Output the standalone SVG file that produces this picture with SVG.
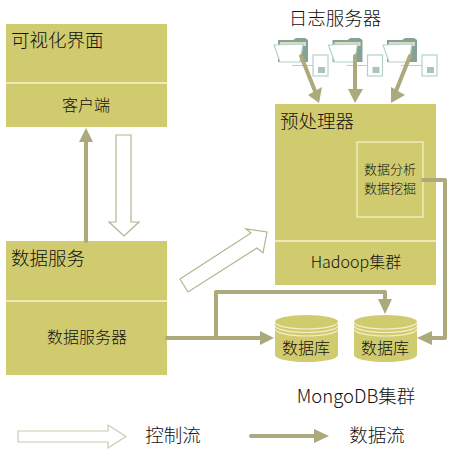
<svg xmlns="http://www.w3.org/2000/svg" width="449" height="457" viewBox="0 0 449 457">
<style>
text{font-family:"Noto Sans CJK SC","Liberation Sans",sans-serif;fill:#111;font-weight:300}
.box{fill:#d1cb6f}
.div{stroke:#eeeab8;stroke-width:2;fill:none}
.flow{fill:none;stroke:#aca97d;stroke-width:4;stroke-linejoin:round;stroke-linecap:round}
.head{fill:#aca97d}
.ctl{fill:#fff;stroke:#b5b38d;stroke-width:1.2}
.t18{font-size:18.500px}.t16{font-size:16px}.t13{font-size:13px}
.cyl{fill:#d1cb6f}
.cl{fill:none;stroke:#f3f0c8;stroke-width:1.200}
.ic{fill:#fff;stroke:#b4d0cc;stroke-width:1.200}
</style>
<defs>
<g id="log">
<path d="M-1 2H14L17 0H26L29 2V24H-1Z" fill="#86a294"/>
<path d="M1 4H27V8H1Z" fill="#dcdcc4"/>
<path d="M-5 7L24 6L21 24H1Z" class="ic"/>
<path d="M13 27.500H34" stroke="#b4d0cc" fill="none"/>
<rect x="34" y="17" width="15" height="21" class="ic"/>
<rect x="39" y="29" width="7" height="6" fill="#a9c4bf"/>
</g>
<g id="db">
<path d="M0 7A31.500 7 0 0 1 63 7V40A31.500 7 0 0 1 0 40Z" class="cyl"/>
<path d="M0 7A31.500 7 0 0 0 63 7M0 10.500A31.500 7 0 0 0 63 10.500M0 14A31.500 7 0 0 0 63 14" class="cl"/>
</g>
</defs>
<g id="log-server">
<text x="335" y="25" text-anchor="middle" class="t18">日志服务器</text>
<use href="#log" x="279" y="38"/><use href="#log" x="333.500" y="38"/><use href="#log" x="388" y="38"/>
</g>
<g id="ui">
<rect x="6" y="24" width="161" height="103" class="box"/>
<path d="M6 83H167" class="div"/>
<text x="11" y="47" class="t18">可视化界面</text>
<text x="86" y="111" text-anchor="middle" class="t16">客户端</text>
</g>
<g id="data-service">
<rect x="6" y="241" width="161" height="134" class="box"/>
<path d="M6 301H167" class="div"/>
<text x="11" y="265" class="t18">数据服务</text>
<text x="87" y="343" text-anchor="middle" class="t16">数据服务器</text>
</g>
<g id="preprocessor">
<rect x="275" y="104" width="161" height="181" class="box"/>
<path d="M275 241H436" class="div"/>
<text x="280" y="128" class="t18">预处理器</text>
<rect x="357" y="142" width="66" height="75" fill="none" stroke="#eeeab8" stroke-width="1.500"/>
<text x="390" y="174" text-anchor="middle" class="t13">数据分析</text>
<text x="390" y="193" text-anchor="middle" class="t13">数据挖掘</text>
<text x="356" y="268" text-anchor="middle" class="t16">Hadoop集群</text>
</g>
<g id="db1"><use href="#db" x="275" y="315"/><text x="306" y="354" text-anchor="middle" class="t16">数据库</text></g>
<g id="db2"><use href="#db" x="354" y="315"/><text x="385" y="354" text-anchor="middle" class="t16">数据库</text></g>
<g id="mongo-label"><text x="356" y="403" text-anchor="middle" class="t18">MongoDB集群</text></g>
<g id="connectors">
<path d="M86 241V140" class="flow"/><path d="M79 142L86 128L93 142Z" class="head"/>
<path d="M116 135H131V222H139L124 236L109 222H116Z" class="ctl"/>
<path d="M180 279L251 233L246 229L267 232L263 253L257 248L188 292Z" class="ctl"/>
<path d="M301 56L315 91" class="flow"/><path d="M308 95L322 87L319 103Z" class="head"/>
<path d="M355 56V90" class="flow"/><path d="M348 89H363L355 103Z" class="head"/>
<path d="M410 56L396 91" class="flow"/><path d="M391 87L405 95L391 103Z" class="head"/>
<path d="M167 338H262" class="flow"/><path d="M260 331L274 338L260 345Z" class="head"/>
<path d="M216 338V292H385V301" class="flow"/><path d="M378 299H392L385 314Z" class="head"/>
<path d="M423 180H445V338H432" class="flow"/><path d="M432 331L417 338L432 345Z" class="head"/>
</g>
<g id="legend">
<path d="M18 431H108V425L126 436.500L108 448V442H18Z" class="ctl" stroke-opacity=".7"/>
<text x="173" y="442" text-anchor="middle" class="t18">控制流</text>
<path d="M251 436H316" class="flow"/><path d="M314 429L329 436L314 443Z" class="head"/>
<text x="377" y="442" text-anchor="middle" class="t18">数据流</text>
</g>
</svg>
